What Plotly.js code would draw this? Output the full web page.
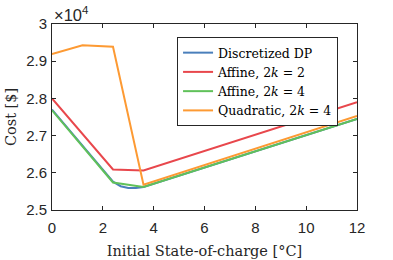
<!DOCTYPE html>
<html><head><meta charset="utf-8">
<script src="https://cdn.plot.ly/plotly-3.0.1.min.js"></script>
<style>html,body{margin:0;padding:0;background:#fff}#chart{width:393px;height:260px}</style>
</head><body><div id="chart"></div>
<script>
const seriesNames = ["Discretized DP", "Affine, 2<i>k</i> = 2", "Affine, 2<i>k</i> = 4", "Quadratic, 2<i>k</i> = 4"];
const dpX = [0, 2.4, 2.7, 3.0, 3.3, 3.6, 12];
const dpY = [27700, 25760, 25640, 25590, 25590, 25620, 27450];
const aff2X = [0, 2.4, 3.6, 12];
const aff2Y = [28000, 26090, 26060, 27900];
const aff4X = [0, 2.4, 3.6, 12];
const aff4Y = [27680, 25740, 25620, 27450];
const quadX = [0, 1.2, 2.4, 3.6, 12];
const quadY = [29190, 29430, 29390, 25680, 27530];
const yTicks = [25000, 26000, 27000, 28000, 29000, 30000];
const yTickText = ["2.5", "2.6", "2.7", "2.8", "2.9", "3"];
const xTicks = [0, 2, 4, 6, 8, 10, 12];
const colors = ["#4a7fbb", "#e8474c", "#60c15a", "#fd9a33"];

const xs = [dpX, aff2X, aff4X, quadX];
const ys = [dpY, aff2Y, aff4Y, quadY];
const traces = xs.map((x, i) => ({
  x: x, y: ys[i], name: seriesNames[i], type: "scatter", mode: "lines",
  line: {color: colors[i], width: 2}
}));

const axisCommon = {
  showgrid: false, zeroline: false, showline: true, mirror: "ticks",
  linecolor: "#262626", linewidth: 1, ticks: "inside", ticklen: 4,
  tickcolor: "#262626", tickfont: {family: "Liberation Sans, Arial", size: 15, color: "#262626"}
};
const layout = {
  width: 393, height: 260,
  margin: {l: 52, r: 36, t: 24, b: 50},
  paper_bgcolor: "#fff", plot_bgcolor: "#fff",
  showlegend: true,
  xaxis: Object.assign({}, axisCommon, {
    range: [0, 12], tickvals: xTicks, ticklabelstandoff: 4,
    title: {text: "Initial State-of-charge [°C]", font: {family: "DejaVu Serif, serif", size: 14.5, color: "#262626"}, standoff: 10}
  }),
  yaxis: Object.assign({}, axisCommon, {
    range: [25000, 30000], tickvals: yTicks, ticktext: yTickText, ticklabelstandoff: 1,
    title: {text: "Cost [$]", font: {family: "DejaVu Serif, serif", size: 14.5, color: "#262626"}, standoff: 6}
  }),
  legend: {
    x: 0.41, y: 0.93, xanchor: "left", yanchor: "top",
    bgcolor: "#fff", bordercolor: "#262626", borderwidth: 1,
    font: {family: "DejaVu Serif, serif", size: 12.5, color: "#000"},
    tracegroupgap: 0
  },
  annotations: [{
    xref: "paper", yref: "paper", x: 0, y: 1, xanchor: "left", yanchor: "bottom",
    text: "×10<sup>4</sup>", showarrow: false,
    font: {family: "Liberation Sans, Arial", size: 16.5, color: "#262626"}, yshift: -2
  }]
};
Plotly.newPlot("chart", traces, layout, {displayModeBar: false, staticPlot: true});
</script></body></html>
